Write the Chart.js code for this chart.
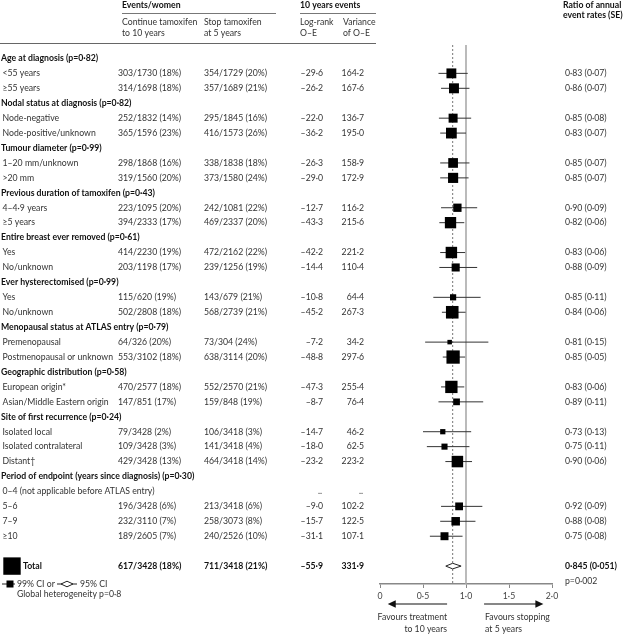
<!DOCTYPE html>
<html><head><meta charset="utf-8">
<script src="https://cdn.jsdelivr.net/npm/chart.js@4.4.0/dist/chart.umd.min.js"></script>
<style>html,body{margin:0;padding:0;background:#fff;}canvas{display:block;}</style>
</head><body>
<canvas id="c" width="625" height="634"></canvas>
<script>
// ---------- DATA ----------
const rowLabels = ["Age at diagnosis (p=0·82)","<55 years","≥55 years",
 "Nodal status at diagnosis (p=0·82)","Node-negative","Node-positive/unknown",
 "Tumour diameter (p=0·99)","1–20 mm/unknown",">20 mm",
 "Previous duration of tamoxifen (p=0·43)","4–4·9 years","≥5 years",
 "Entire breast ever removed (p=0·61)","Yes","No/unknown",
 "Ever hysterectomised (p=0·99)","Yes","No/unknown",
 "Menopausal status at ATLAS entry (p=0·79)","Premenopausal","Postmenopausal or unknown",
 "Geographic distribution (p=0·58)","European origin*","Asian/Middle Eastern origin",
 "Site of first recurrence (p=0·24)","Isolated local","Isolated contralateral","Distant†",
 "Period of endpoint (years since diagnosis) (p=0·30)","0–4 (not applicable before ATLAS entry)","5–6","7–9","≥10"];
// h = group heading, r = result row, n = not applicable
const rowKind = ["h","r","r","h","r","r","h","r","r","h","r","r","h","r","r","h","r","r","h","r","r","h","r","r","h","r","r","r","h","n","r","r","r"];
const continueTam = [null,"303/1730 (18%)","314/1698 (18%)",null,"252/1832 (14%)","365/1596 (23%)",null,"298/1868 (16%)","319/1560 (20%)",null,"223/1095 (20%)","394/2333 (17%)",null,"414/2230 (19%)","203/1198 (17%)",null,"115/620 (19%)","502/2808 (18%)",null,"64/326 (20%)","553/3102 (18%)",null,"470/2577 (18%)","147/851 (17%)",null,"79/3428 (2%)","109/3428 (3%)","429/3428 (13%)",null,null,"196/3428 (6%)","232/3110 (7%)","189/2605 (7%)"];
const stopTam = [null,"354/1729 (20%)","357/1689 (21%)",null,"295/1845 (16%)","416/1573 (26%)",null,"338/1838 (18%)","373/1580 (24%)",null,"242/1081 (22%)","469/2337 (20%)",null,"472/2162 (22%)","239/1256 (19%)",null,"143/679 (21%)","568/2739 (21%)",null,"73/304 (24%)","638/3114 (20%)",null,"552/2570 (21%)","159/848 (19%)",null,"106/3418 (3%)","141/3418 (4%)","464/3418 (14%)",null,null,"213/3418 (6%)","258/3073 (8%)","240/2526 (10%)"];
const logrankOE = [null,-29.6,-26.2,null,-22.0,-36.2,null,-26.3,-29.0,null,-12.7,-43.3,null,-42.2,-14.4,null,-10.8,-45.2,null,-7.2,-48.8,null,-47.3,-8.7,null,-14.7,-18.0,-23.2,null,null,-9.0,-15.7,-31.1];
const varianceOE = [null,164.2,167.6,null,136.7,195.0,null,158.9,172.9,null,116.2,215.6,null,221.2,110.4,null,64.4,267.3,null,34.2,297.6,null,255.4,76.4,null,46.2,62.5,223.2,null,null,102.2,122.5,107.1];
const ratio = [null,0.83,0.86,null,0.85,0.83,null,0.85,0.85,null,0.90,0.82,null,0.83,0.88,null,0.85,0.84,null,0.81,0.85,null,0.83,0.89,null,0.73,0.75,0.90,null,null,0.92,0.88,0.75];
const ratioSE = [null,0.07,0.07,null,0.08,0.07,null,0.07,0.07,null,0.09,0.06,null,0.06,0.09,null,0.11,0.06,null,0.15,0.05,null,0.06,0.11,null,0.13,0.11,0.06,null,null,0.09,0.08,0.08];
// 99% CI ends
const ciLow  = [null,0.68,0.71,null,0.685,0.70,null,0.70,0.70,null,0.71,0.69,null,0.70,0.69,null,0.62,0.72,null,0.525,0.73,null,0.71,0.68,null,0.50,0.545,0.76,null,null,0.71,0.70,0.58];
const ciHigh = [null,1.02,1.04,null,1.06,1.00,null,1.04,1.03,null,1.13,0.98,null,0.99,1.13,null,1.17,0.995,null,1.26,0.99,null,0.98,1.20,null,1.06,1.04,1.07,null,null,1.19,1.11,0.96];
const totalContinue = "617/3428 (18%)";
const totalStop = "711/3418 (21%)";
const totalOE = -55.9;
const totalVar = 331.9;
const totalRatio = 0.845;
const totalSE = 0.051;
const totalLow95 = 0.765;
const totalHigh95 = 0.943;
const xTicks = [0, 0.5, 1, 1.5, 2];

// ---------- HELPERS ----------
const FONT = "Lato";
const FS = 8.7;
const TOTAL_ROW = 34;
function f1(v){ return (v<0?"–":"") + Math.abs(v).toFixed(1).replace(".","·"); }
function f2(v,d){ return v.toFixed(d).replace(".","·"); }
function txt(ctx, s, x, y, o){
  o = o||{};
  ctx.font = (o.bold?"bold ":"") + (o.size||FS) + "px " + FONT;
  ctx.fillStyle = o.color || (o.bold ? "#111" : "#333");
  ctx.textAlign = o.align || "left";
  ctx.textBaseline = "middle";
  ctx.fillText(s, x, y);
}
function hline(ctx, x1, x2, y, col, w){
  ctx.beginPath(); ctx.strokeStyle = col||"#666"; ctx.lineWidth = w||1;
  ctx.moveTo(x1, y); ctx.lineTo(x2, y); ctx.stroke();
}

// ---------- DATASETS ----------
const ciPoints = [];
const squarePoints = [];
const squareVar = [];
rowKind.forEach((k,i)=>{
  if (k === "r") {
    ciPoints.push({x:ciLow[i], y:i}, {x:ciHigh[i], y:i}, {x:null, y:null});
    squarePoints.push({x:ratio[i], y:i});
    squareVar.push(varianceOE[i]);
  }
});

const tablePlugin = {
  id: "table",
  afterDraw(chart){
    const ctx = chart.ctx, ys = chart.scales.y, xs = chart.scales.x;
    ctx.save();
    // header
    txt(ctx, "Events/women", 122, 5, {bold:true});
    hline(ctx, 122, 276, 13.5, "#777", 1);
    txt(ctx, "10 years events", 300, 5, {bold:true});
    hline(ctx, 300, 376, 13.5, "#777", 1);
    txt(ctx, "Continue tamoxifen", 122, 22); txt(ctx, "to 10 years", 122, 33);
    txt(ctx, "Stop tamoxifen", 204, 22); txt(ctx, "at 5 years", 204, 33);
    txt(ctx, "Log-rank", 300, 22); txt(ctx, "O–E", 300, 33);
    txt(ctx, "Variance", 343, 22); txt(ctx, "of O–E", 343, 33);
    txt(ctx, "Ratio of annual", 563, 5, {bold:true});
    txt(ctx, "event rates (SE)", 563, 15, {bold:true});
    hline(ctx, 0, 376, 43.5, "#666", 1);
    // rows
    rowKind.forEach((k,i)=>{
      const y = ys.getPixelForValue(i);
      if (k === "h") { txt(ctx, rowLabels[i], 1, y, {bold:true}); return; }
      txt(ctx, rowLabels[i], 2.5, y);
      if (k === "n") {
        txt(ctx, "..", 322, y, {align:"right"});
        txt(ctx, "..", 363, y, {align:"right"});
        return;
      }
      txt(ctx, continueTam[i], 118, y);
      txt(ctx, stopTam[i], 204, y);
      txt(ctx, f1(logrankOE[i]), 323, y, {align:"right"});
      txt(ctx, f1(varianceOE[i]), 364, y, {align:"right"});
      txt(ctx, f2(ratio[i],2) + " (" + f2(ratioSE[i],2) + ")", 565, y);
    });
    // total row
    const yt = ys.getPixelForValue(TOTAL_ROW);
    ctx.fillStyle = "#000";
    ctx.fillRect(3.3, yt-8.7, 17.4, 17.4);
    txt(ctx, "Total", 23, yt, {bold:true});
    txt(ctx, totalContinue, 118, yt, {bold:true});
    txt(ctx, totalStop, 204, yt, {bold:true});
    txt(ctx, f1(totalOE), 323, yt, {align:"right", bold:true});
    txt(ctx, f1(totalVar), 364, yt, {align:"right", bold:true});
    txt(ctx, f2(totalRatio,3) + " (" + f2(totalSE,3) + ")", 565, yt, {bold:true});
    // diamond for total (95% CI)
    const dl = xs.getPixelForValue(totalLow95), dr = xs.getPixelForValue(totalHigh95), dc = xs.getPixelForValue(totalRatio);
    ctx.beginPath();
    ctx.moveTo(dl, yt); ctx.lineTo(dc, yt-2.8); ctx.lineTo(dr, yt); ctx.lineTo(dc, yt+2.8); ctx.closePath();
    ctx.fillStyle = "#fff"; ctx.fill(); ctx.strokeStyle = "#222"; ctx.lineWidth = 1; ctx.stroke();
    // legend
    const yl = 584;
    hline(ctx, 2, 15, yl, "#222", 1);
    ctx.fillStyle = "#000"; ctx.fillRect(6.5, yl-3.5, 7, 7);
    txt(ctx, "99% CI or", 17, yl);
    hline(ctx, 57, 77, yl, "#222", 1);
    ctx.beginPath(); ctx.moveTo(61, yl); ctx.lineTo(67, yl-2.8); ctx.lineTo(73, yl); ctx.lineTo(67, yl+2.8); ctx.closePath();
    ctx.fillStyle = "#fff"; ctx.fill(); ctx.strokeStyle = "#222"; ctx.stroke();
    txt(ctx, "95% CI", 80, yl);
    txt(ctx, "Global heterogeneity p=0·8", 17, 594.5);
    txt(ctx, "p=0·002", 565, 581);
    // arrows
    const ya = 604;
    const la = xs.getPixelForValue(0.09), lb = xs.getPixelForValue(0.78);
    const ra = xs.getPixelForValue(1.21), rb = xs.getPixelForValue(1.90);
    hline(ctx, la+6, lb, ya, "#111", 1.2);
    hline(ctx, ra, rb-6, ya, "#111", 1.2);
    ctx.fillStyle = "#111";
    ctx.beginPath(); ctx.moveTo(la, ya); ctx.lineTo(la+8, ya-3.8); ctx.lineTo(la+8, ya+3.8); ctx.closePath(); ctx.fill();
    ctx.beginPath(); ctx.moveTo(rb, ya); ctx.lineTo(rb-8, ya-3.8); ctx.lineTo(rb-8, ya+3.8); ctx.closePath(); ctx.fill();
    txt(ctx, "Favours treatment", lb, 617, {align:"right"});
    txt(ctx, "to 10 years", lb, 629, {align:"right"});
    txt(ctx, "Favours stopping", ra+1, 617);
    txt(ctx, "at 5 years", ra+1, 629);
    ctx.restore();
  }
};

function build(){
  new Chart(document.getElementById("c"), {
    type: "scatter",
    data: {
      datasets: [
        { // squares, area proportional to variance
          data: squarePoints, order: 0, pointStyle: "rect",
          backgroundColor: "#000", borderWidth: 0,
          pointRadius: c => 0.77*Math.sqrt(squareVar[c.dataIndex] || 0)/Math.SQRT2,
          pointHoverRadius: c => 0.77*Math.sqrt(squareVar[c.dataIndex] || 0)/Math.SQRT2
        },
        { // 99% CI
          data: ciPoints, order: 1, showLine: true, spanGaps: false,
          borderColor: "#333", borderWidth: 1, pointRadius: 0
        },
        { // overall ratio dashed
          data: [{x:totalRatio, y:-0.9}, {x:totalRatio, y:35.2}], order: 2, showLine: true,
          borderColor: "#777", borderWidth: 1, borderDash: [2,2], pointRadius: 0
        },
        { // no-effect line
          data: [{x:1, y:-0.9}, {x:1, y:35.2}], order: 3, showLine: true,
          borderColor: "#aaa", borderWidth: 1.6, pointRadius: 0
        }
      ]
    },
    options: {
      responsive: false, animation: false, devicePixelRatio: 1,
      layout: { padding: { left: 380, right: 73, top: 45, bottom: 0 } },
      plugins: { legend: { display: false }, tooltip: { enabled: false } },
      events: [],
      scales: {
        x: {
          type: "linear", min: 0, max: 2, position: "bottom",
          afterBuildTicks: s => { s.ticks = xTicks.map(v => ({value: v})); },
          afterFit: s => { s.height = 50; },
          ticks: {
            callback: v => v === 0 ? "0" : f2(v,1),
            font: { family: FONT, size: FS }, color: "#444", padding: 3, maxRotation: 0
          },
          grid: { drawOnChartArea: false, drawTicks: true, tickLength: 4, color: "#888" },
          border: { display: true, color: "#888", width: 1.5 }
        },
        y: { type: "linear", reverse: true, min: -0.9, max: 35.2, display: false }
      }
    },
    plugins: [tablePlugin]
  });
}
(document.fonts && document.fonts.load ? Promise.all([document.fonts.load(FS+"px Lato"), document.fonts.load("bold "+FS+"px Lato")]) : Promise.resolve()).then(build, build);
</script>
</body></html>
